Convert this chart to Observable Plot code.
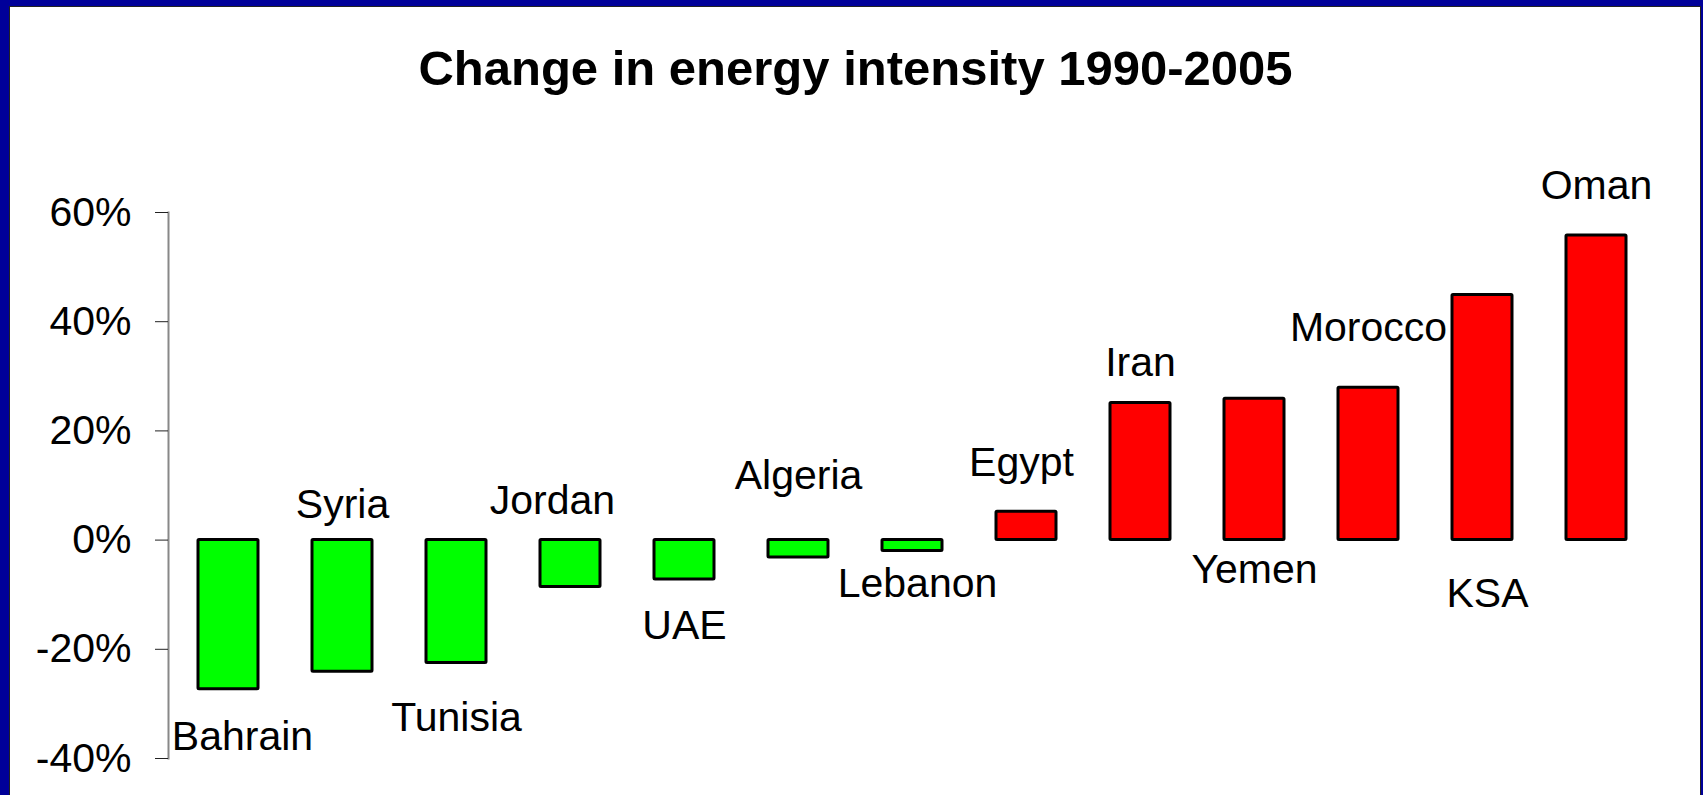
<!DOCTYPE html>
<html><head><meta charset="utf-8">
<script src="https://cdn.jsdelivr.net/npm/d3@7"></script>
<script src="https://cdn.jsdelivr.net/npm/@observablehq/plot@0.6"></script>
<style>
html,body{margin:0;padding:0;background:#000099;width:1703px;height:795px;overflow:hidden;font-family:"Liberation Sans",Arial,sans-serif;}
#panel{position:absolute;left:9px;top:6px;width:1692px;height:800px;background:#fff;border:1px solid #222;box-sizing:border-box;}
#title{position:absolute;left:10px;top:44px;width:1691px;text-align:center;font-weight:bold;font-size:49px;line-height:49px;color:#000;}
#chart{position:absolute;left:10px;top:110px;}
</style>
</head><body>
<div id="panel"></div>
<div id="title">Change in energy intensity 1990-2005</div>
<div id="chart"></div>
<script>
const countries = ["Bahrain","Syria","Tunisia","Jordan","UAE","Algeria","Lebanon","Egypt","Iran","Yemen","Morocco","KSA","Oman"];
const values = [-27.3,-24.1,-22.5,-8.6,-7.2,-3.2,-2.0,5.2,25.1,25.9,27.9,44.9,55.8];
const labelY = [-36.1,6.4,-32.5,7.2,-15.8,11.8,-8.0,14.2,32.5,-5.4,38.9,-9.8,64.8];
const yTicks = [-40,-20,0,20,40,60];
const colorDown = "#00ff00", colorUp = "#ff0000";

const data = countries.map((c,i)=>({c, v: values[i], ly: labelY[i]}));
// a few labels were nudged sideways in the original
const nudged = {Bahrain: 14, Jordan: -18, Egypt: -5, Lebanon: 5, KSA: 5};
const plain = data.filter(d => !(d.c in nudged));

const chart = Plot.plot({
  width: 1691,
  height: 685,
  marginTop: 102,
  marginBottom: 37,
  marginLeft: 158,
  marginRight: 44,
  style: {fontFamily: "'Liberation Sans', Arial, sans-serif", background: "transparent", color: "black"},
  x: {domain: countries, paddingInner: 0.47, paddingOuter: 0.227, axis: null},
  y: {domain: [-40, 60]},
  color: {type: "identity"},
  marks: [
    Plot.frame({anchor: "left", stroke: "#888", strokeWidth: 2}),
    Plot.axisY({ticks: yTicks, tickFormat: d => d + "%", tickSize: 13, tickPadding: 24, fontSize: 41, label: null, stroke: "#222", fill: "black"}),
    Plot.barY(data, {x: "c", y: "v", fill: d => d.v < 0 ? colorDown : colorUp, stroke: "black", strokeWidth: 3, rx: 1}),
    Plot.text(plain, {x: "c", y: "ly", text: "c", fontSize: 41, fill: "black", lineAnchor: "middle"}),
    ...Object.entries(nudged).map(([name, dx]) =>
      Plot.text(data.filter(d => d.c === name), {x: "c", y: "ly", text: "c", fontSize: 41, fill: "black", lineAnchor: "middle", dx}))
  ]
});
document.getElementById("chart").appendChild(chart);
</script>
</body></html>
